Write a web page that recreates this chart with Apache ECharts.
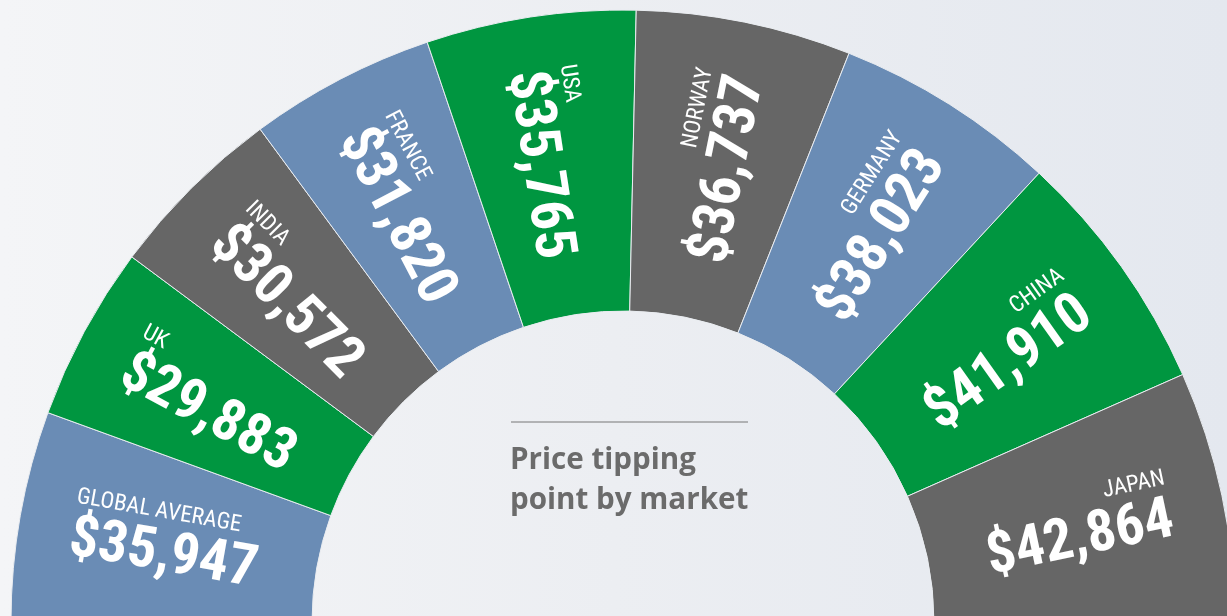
<!DOCTYPE html>
<html>
<head>
<meta charset="utf-8">
<script src="https://cdn.jsdelivr.net/npm/echarts@6/dist/echarts.min.js"></script>
<style>
  html, body { margin: 0; padding: 0; }
  #chart {
    width: 1227px;
    height: 616px;
    background: linear-gradient(90deg, #f4f5f7 0%, #eceef2 50%, #e4e8ef 100%);
  }
</style>
</head>
<body>
<div id="chart"></div>
<script>
const markets = ["GLOBAL AVERAGE", "UK", "INDIA", "FRANCE", "USA", "NORWAY", "GERMANY", "CHINA", "JAPAN"];
const prices = [35947, 29883, 30572, 31820, 35765, 36737, 38023, 41910, 42864];
const titleLines = ["Price tipping", "point by market"];

// pick a condensed face that is really installed (no web fonts here)
const ctx = document.createElement("canvas").getContext("2d");
const measure = (font, txt) => {
  ctx.font = font;
  return ctx.measureText(txt).width;
};
const sample = "$35,947 GLOBAL";
const candidates = [
  { weight: "bold", family: '"Roboto Condensed"' },
  { weight: "bold", family: '"Liberation Sans Narrow"' },
  { weight: "bold", family: '"Noto Sans Condensed"' },
  { weight: "bold", family: '"DejaVu Sans Condensed"' },
  { weight: "bold", family: '"Open Sans Condensed"' },
  { weight: "bold condensed", family: '"Noto Sans"' },
  { weight: "bold condensed", family: '"DejaVu Sans"' },
  { weight: "bold condensed", family: "Roboto" },
];
let face = { weight: "bold", family: '"Liberation Sans"' };
for (const c of candidates) {
  const w = measure(c.weight + " 100px " + c.family + ", monospace", sample);
  const mono = measure("bold 100px monospace", sample);
  const plain = measure("bold 100px Roboto", sample);
  if (Math.abs(w - mono) > 1 && w < plain * 0.92) {
    face = c;
    break;
  }
}
const regWeight = face.weight.replace("bold", "normal");
// sizes fitted to the lengths
const valueSize = Math.round((191 / measure(face.weight + " 100px " + face.family, "$35,947")) * 100);
const nameSize = Math.round((170 / measure(regWeight + " 100px " + face.family, "GLOBAL AVERAGE")) * 100);

const myChart = echarts.init(document.getElementById("chart"));

const pieData = markets.map((name, i) => ({ name: name, value: prices[i] }));

const nameStyle = (align) => ({
  fontFamily: face.family,
  fontWeight: regWeight,
  fontSize: nameSize,
  lineHeight: nameSize + 6,
  color: "#ffffff",
  align: align,
});

const option = {
  backgroundColor: "transparent",
  color: ["#6a8cb5", "#009640", "#666666"],
  title: {
    text: titleLines.join("\n"),
    left: 505,
    top: 436,
    textStyle: {
      fontFamily: "Open Sans",
      fontWeight: "bold",
      fontSize: 29.6,
      lineHeight: 40,
      color: "#6b6b6b",
    },
  },
  graphic: [
    {
      type: "line",
      shape: { x1: 511, y1: 422, x2: 748, y2: 422 },
      style: { stroke: "#777777", lineWidth: 1 },
    },
  ],
  series: [
    {
      type: "pie",
      center: [623, 622],
      radius: [311, 612],
      startAngle: 180,
      endAngle: 0,
      clockwise: true,
      silent: true,
      itemStyle: {
        borderColor: "#e9ecf0",
        borderWidth: 1,
      },
      labelLine: { show: false },
      label: {
        show: true,
        position: "inside",
        rotate: "radial",
        color: "#ffffff",
        formatter: (p) => {
          const side = p.dataIndex < 5 ? "L" : "R";
          return "{n" + side + "|" + p.name + "}\n{v|$" + p.value.toLocaleString("en-US") + "}";
        },
        rich: {
          nL: nameStyle("left"),
          nR: nameStyle("right"),
          v: {
            fontFamily: face.family,
            fontWeight: face.weight,
            fontSize: valueSize,
            lineHeight: Math.round(valueSize * 0.98),
            color: "#ffffff",
          },
        },
      },
      data: pieData,
    },
  ],
};

myChart.setOption(option);
</script>
</body>
</html>
